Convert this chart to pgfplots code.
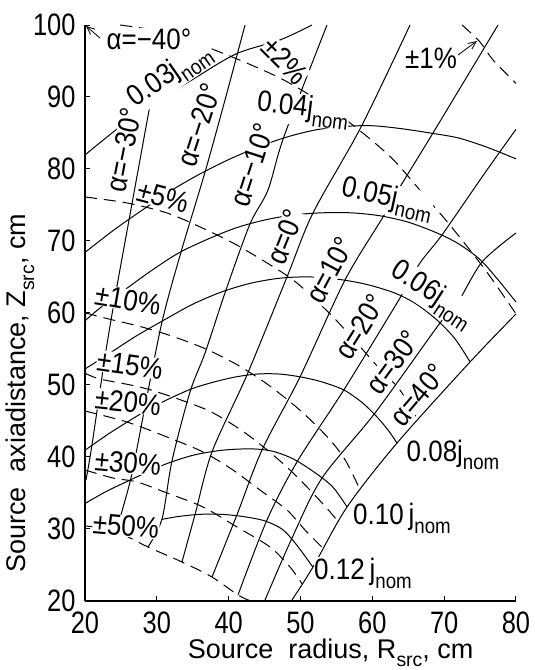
\documentclass[border=0pt]{standalone}
\usepackage{fontspec}
\setmainfont{Liberation Sans}
\newfontfamily\tickfont{Liberation Sans}[FakeStretch=0.82]
\newfontfamily\labfont{Liberation Sans}[FakeStretch=0.88]
\usepackage{graphicx}
\usepackage{pgfplots}
\pgfplotsset{compat=1.18}
\usetikzlibrary{arrows.meta}
\newcommand{\sub}[1]{\raisebox{-0.3em}{\scalebox{0.72}{#1}}}
\pgfplotsset{ln/.style={black, line width=1pt, no markers, smooth, tension=0.5},
 dl/.style={ln, dash pattern=on 12pt off 7pt},
 ar/.style={black, no markers, sharp plot, line width=0.8pt, -{Straight Barb[length=8pt,width=7pt]}}}
\begin{document}
\begin{tikzpicture}
\tikzset{lab/.style={fill=white, inner sep=0.3pt, font=\labfont\fontsize{29.5}{31}\selectfont}}
\begin{axis}[
 width=431pt, height=575.7pt, scale only axis,
 xmin=20, xmax=80, ymin=20, ymax=100,
 axis lines=left,
 axis line style={-, line width=1.6pt},
 x axis line style={-}, y axis line style={-},
 xtick={20,30,...,80}, ytick={20,30,...,100},
 tick align=inside, major tick length=5pt,
 tick style={line width=1pt, black},
 ticklabel style={font=\tickfont\fontsize{31}{33}\selectfont},
 yticklabel style={xshift=-6pt},
 xticklabel style={yshift=-8pt},
 /pgf/number format/assume math mode=true,
 xlabel={Source\ \ radius, R\sub{src}, cm},
 ylabel={Source\ \ axiadistance, Z\sub{src}, cm},
 xlabel style={font=\fontsize{27}{29}\selectfont, at={(axis description cs:0.57,-0.091)}, anchor=center, inner sep=0pt},
 ylabel style={font=\fontsize{27}{29}\selectfont, at={(axis description cs:-0.15,0.36)}, anchor=center, inner sep=0pt, rotate=0},
 clip=false,
]
\coordinate (O) at (axis cs:20,20);
% ---- j contours (solid)
\addplot[ln] coordinates {(20,81.94) (27.38,87.78) (34.62,92.2) (41.02,95.98) (47.15,97.92) (51.6,100)};
\addplot[ln] coordinates {(20,68.4) (24,71.5) (28,74.3) (32,77.0) (36,79.3) (40,81.3) (44,83.0) (48,84.4) (52,85.4) (56,85.9) (60,86.0) (64,85.6) (68,85.0) (72,84.3) (76,83.0) (80,81.4)};
\addplot[ln] coordinates {(20,58.9) (22,60.6) (25,62.8) (29,65.7) (33,68.3) (37,70.2) (41,71.8) (45,72.9) (49,73.6) (53,73.9) (57,73.9) (61,73.5) (65,72.6) (69,71.1) (72,69.6) (75,67.4) (77.5,64.6) (80,61.5)};
\addplot[ln] coordinates {(20,52.2) (23,54.1) (27,56.7) (31,59.0) (35,61.2) (39,62.9) (43,64.1) (47,64.8) (51,65.0) (55,64.7) (59,64.0) (63,62.8) (66,61.3) (69,59.0) (71.5,56.4) (73.6,53.2)};
\addplot[ln] coordinates {(20,40.9) (23,43.0) (26,44.9) (29,46.7) (32,48.2) (35,49.5) (38,50.4) (41,51.1) (44,51.5) (47,51.5) (50,51.1) (53,50.4) (56,49.3) (58.5,47.6) (60.5,45.7) (62.2,43.7) (63.44,41.9)};
\addplot[ln] coordinates {(20,33.5) (23,35.2) (27,37.1) (31,38.9) (35,40.2) (39,40.9) (43,41.1) (46,40.8) (49,39.7) (52,37.8) (54.5,35.8) (56.5,33.0)};
\addplot[ln] coordinates {(30.7,31.3) (33,31.7) (36,32.0) (39,32.0) (42,31.7) (45,31.1) (47.5,29.9) (49.5,27.7) (51.7,24.7)};
% ---- alpha lines (solid)
\addplot[ln] coordinates {(29.05,88.89) (26.13,72.91) (24.18,62.20) (22.78,53.87) (20.97,41.63) (20.14,36.77)};
\addplot[ln] coordinates {(42.28,100) (39.49,89.58) (36.71,79.56) (33.37,68.46) (30.72,58.73) (28.21,46.22) (26.40,37.05) (24.46,30.10)};
\addplot[ln] coordinates {(53.69,100) (47.7,84.5) (45.48,77.08) (42.97,72.35) (39.63,63.18) (36.71,54.42) (34.62,49.00) (32.11,39.42) (30.72,31.35) (28.77,27.46)};
\addplot[ln] coordinates {(65.25,100) (58.43,85.83) (51.74,73.88) (48.12,64.98) (42.55,51.37) (37.68,40.67) (35.31,31.95) (33.50,25.38)};
\addplot[ln] coordinates {(77.50,100) (68.45,85.00) (63.85,77.49) (61.49,73.32) (56.20,64.57) (49.93,51.09) (44.64,40.94) (41.16,31.95) (37.68,23.29)};
\addplot[ln] coordinates {(80,85.5) (77.64,82.22) (74.99,78.47) (69.70,70.83) (66.64,66.94) (64.27,62.76) (56.20,49.56) (49.51,39.28) (45.34,31.22) (41.30,20.79)};
\addplot[ln] coordinates {(80,71.1) (75.3,67.1) (71.93,61.51) (69.42,58.59) (60.37,46.08) (53.00,37.05) (48.82,28.71) (45.06,20.10)};
\addplot[ln] coordinates {(80,59.85) (73.60,53.17) (63.44,41.91) (56.48,33.02) (51.74,24.68) (48.82,20.10)};
% ---- error contours (dashed)
\addplot[dl] coordinates {(72.49,100) (74.99,97.64) (76.80,95.14) (80,91.9)};
\addplot[dl] coordinates {(24.9,100) (31.4,99.0) (35,97.7) (41.6,95.1) (47.2,92.6) (51.7,90.0) (56.9,86.4) (62.5,81.7) (66.5,77.2) (70.8,72.2) (75.7,66.0) (79.9,60.0)};
\addplot[dl] coordinates {(20,76.10) (25.85,75.27) (31.42,73.88) (36.01,71.94) (40.60,69.71) (45.34,66.94) (49.51,64.15) (54.53,59.43) (58.70,54.84) (61.3,51.9) (63.85,49.28) (66.33,45.11)};
\addplot[dl] coordinates {(20,60.0) (23.5,59.1) (27.7,58.1) (32.3,56.7) (37,54.9) (41.5,52.6) (45.5,50.0) (49.9,46.5) (53.7,42.8) (56.2,39.6) (58.3,35.4)};
\addplot[dl] coordinates {(20,51.6) (22.1,50.8) (26.7,49.9) (30.4,48.9) (37,46.5) (41.6,43.8) (45.3,41.0) (48.5,38.2) (51.3,35.4) (53.8,32.7) (55.3,30.9)};
\addplot[dl] coordinates {(20,46.36) (25.85,44.83) (31.42,42.75) (36.43,40.67) (40.60,38.16) (44.36,35.38) (48.12,32.60) (50.63,29.82) (53.1,27.32)};
\addplot[dl] coordinates {(20,38.16) (23.90,37.05) (27.24,36.50) (31.42,34.97) (36.43,33.02) (41.16,30.24) (45.76,27.46) (48.54,24.68) (50.24,22.32)};
\addplot[dl] coordinates {(20,30.38) (23.90,29.82) (28.77,27.46) (33.50,25.38) (37.68,23.29) (41.30,20.79) (42.97,20)};
% ---- arrows
\addplot[ar] coordinates {(22.09,98.19) (20.14,99.86)};
\addplot[ar] coordinates {(71.93,95.83) (74.57,97.78)};
% ---- labels
\node[lab] at (axis cs:28.9,98.06) {α=−40°};
\node[lab, rotate=35] at (axis cs:31.83,92.92) {0.03j\sub{nom}};
\node[lab, rotate=79] at (axis cs:25.4,82.63) {α=−30°};
\node[lab, rotate=72] at (axis cs:35.9,86.11) {α=−20°};
\node[lab, rotate=-45] at (axis cs:47.84,95.0) {±2\%};
\node[lab, rotate=-7] at (axis cs:50.35,88.19) {0.04j\sub{nom}};
\node[lab] at (axis cs:68.17,95.42) {±1\%};
\node[lab, rotate=72] at (axis cs:43.25,80.55) {α=−10°};
\node[lab, rotate=-15] at (axis cs:30.86,76.10) {±5\%};
\node[lab, rotate=68] at (axis cs:47.84,70.54) {α=0°};
\node[lab, rotate=-12] at (axis cs:62.05,75.80) {0.05j\sub{nom}};
\node[lab, rotate=62] at (axis cs:54.11,65.96) {α=10°};
\node[lab, rotate=-33] at (axis cs:68.31,62.48) {0.06j\sub{nom}};
\node[lab, rotate=58] at (axis cs:58.29,58.04) {α=20°};
\node[lab, rotate=54] at (axis cs:62.88,53.17) {α=30°};
\node[lab, rotate=50] at (axis cs:66.36,48.58) {α=40°};
\node[lab] at (axis cs:71.23,40.25) {0.08j\sub{nom}};
\node[lab] at (axis cs:64.13,31.49) {0.10\,j\sub{nom}};
\node[lab] at (axis cs:58.70,23.85) {0.12\,j\sub{nom}};
\node[lab, rotate=-10] at (axis cs:25.99,61.79) {±10\%};
\node[lab, rotate=-8] at (axis cs:26.26,52.77) {±15\%};
\node[lab, rotate=-6] at (axis cs:25.99,47.62) {±20\%};
\node[lab, rotate=-5] at (axis cs:25.99,39.14) {±30\%};
\node[lab, rotate=-5] at (axis cs:25.71,30.38) {±50\%};
\end{axis}
\pgfresetboundingbox
\path[use as bounding box] (O) ++(-85pt,-69.3pt) rectangle ++(535pt,670pt);
\end{tikzpicture}
\end{document}
